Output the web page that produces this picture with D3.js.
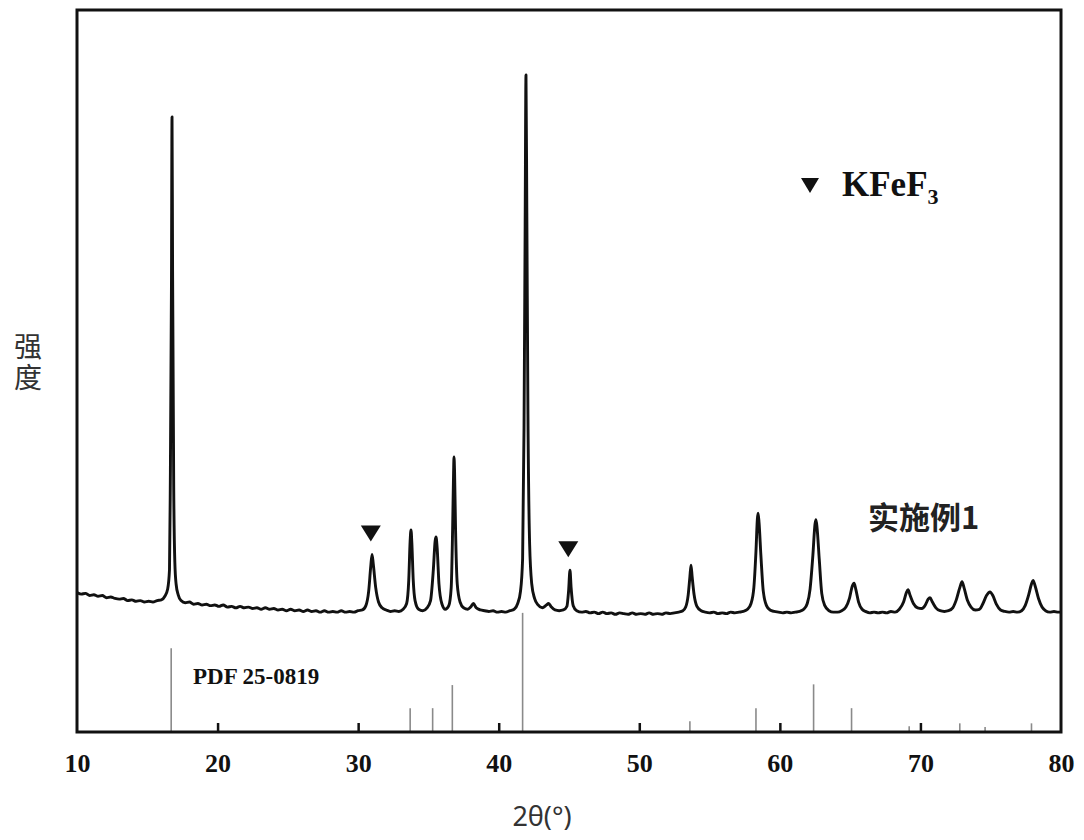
<!DOCTYPE html>
<html>
<head>
<meta charset="utf-8">
<style>
  body { margin: 0; background: #fff; }
  svg { display: block; }
  .tick-label { font: bold 26px "Liberation Serif", "Times New Roman", serif; fill: #111; }
</style>
</head>
<body>
<div id="chart"></div>
<script src="https://cdn.jsdelivr.net/npm/d3@7"></script>
<script>
// measured XRD trace (2θ, intensity in arbitrary units)
const twoTheta = [
  10.0,10.3,10.6,10.9,11.2,11.5,11.8,12.1,12.4,12.7,13.0,13.3,13.6,13.9,14.2,14.5,14.8,15.1,15.4,15.7,
  16.0,16.25,16.45,16.58,16.64,16.72,16.76,16.8,16.88,16.96,17.05,17.2,17.4,17.7,18.0,18.3,18.6,18.9,19.2,19.5,
  19.8,20.1,20.4,20.7,21.0,21.3,21.6,21.9,22.2,22.5,22.8,23.1,23.4,23.7,24.0,24.3,24.6,24.9,25.2,25.5,
  25.8,26.1,26.4,26.7,27.0,27.3,27.6,27.9,28.2,28.5,28.8,29.1,29.4,29.7,30.0,30.3,30.55,30.75,30.9,30.99,
  31.08,31.25,31.45,31.7,32.0,32.3,32.6,32.9,33.2,33.45,33.6,33.7,33.76,33.82,33.92,34.05,34.3,34.6,34.9,35.15,
  35.35,35.48,35.54,35.62,35.75,35.95,36.2,36.45,36.62,36.72,36.79,36.82,36.86,36.93,37.05,37.25,37.5,37.8,38.0,38.2,
  38.4,38.7,39.0,39.3,39.6,39.9,40.2,40.5,40.8,41.1,41.35,41.55,41.7,41.8,41.88,41.94,42.0,42.08,42.2,42.35,
  42.55,42.8,43.1,43.4,43.55,43.75,44.0,44.3,44.6,44.85,44.97,45.07,45.15,45.3,45.55,45.9,46.2,46.5,46.8,47.1,
  47.4,47.7,48.0,48.3,48.6,48.9,49.2,49.5,49.8,50.1,50.4,50.7,51.0,51.3,51.6,51.9,52.2,52.5,52.8,53.1,
  53.3,53.48,53.6,53.68,53.76,53.9,54.1,54.4,54.7,55.0,55.3,55.6,55.9,56.2,56.5,56.8,57.1,57.4,57.7,57.95,
  58.15,58.3,58.4,58.45,58.52,58.65,58.82,59.05,59.3,59.6,59.9,60.2,60.5,60.8,61.1,61.4,61.7,61.95,62.15,62.35,
  62.5,62.57,62.65,62.8,62.98,63.2,63.5,63.8,64.1,64.4,64.7,64.95,65.15,65.28,65.4,65.6,65.85,66.1,66.4,66.7,
  67.0,67.3,67.6,67.9,68.2,68.5,68.8,69.0,69.12,69.25,69.5,69.8,70.1,70.35,70.55,70.68,70.85,71.1,71.4,71.7,
  72.0,72.3,72.55,72.8,72.96,73.1,73.35,73.6,73.9,74.2,74.45,74.7,74.95,75.15,75.4,75.7,76.0,76.3,76.6,76.9,
  77.2,77.45,77.7,77.9,78.01,78.15,78.4,78.65,78.9,79.2,79.5,79.8,80.0
];
const intensity = [
  193,191,192,189,190,188,189,186,187,185,184,185,182,183,181,182,180,181,180,182,
  183,188,198,225,350,620,852,640,340,235,205,190,182,179,180,177,178,176,177,175,
  176,174,176,173,174,172,174,172,173,171,172,170,172,170,171,169,170,168,170,168,
  169,167,169,167,168,166,168,166,167,166,168,166,167,166,168,169,175,195,230,246,
  232,200,180,172,169,167,168,167,170,178,210,265,280,262,210,182,170,168,172,182,
  225,265,270,255,205,178,170,175,200,280,360,381,360,280,205,180,172,170,173,178,
  172,169,168,167,168,166,167,166,168,170,178,195,240,420,700,910,720,440,260,205,
  185,176,172,176,178,173,169,168,169,174,195,224,200,175,168,166,167,165,166,164,
  166,164,165,163,165,164,163,165,163,164,163,165,163,164,163,165,164,165,166,168,
  173,190,215,231,215,190,174,168,166,165,166,164,165,164,166,165,166,167,170,178,
  200,250,295,303,290,245,195,175,169,167,166,165,166,165,166,167,170,178,198,245,
  288,294,282,240,192,175,168,166,166,168,173,185,202,206,198,180,170,167,165,166,
  165,166,165,167,166,170,180,193,197,190,178,172,171,176,184,186,180,172,168,167,
  168,172,183,200,208,200,182,173,169,170,178,189,194,189,177,169,167,166,167,166,
  168,175,190,205,210,203,185,173,168,166,167,166,166
];

// PDF 25-0819 reference lines
const refTheta = [16.7, 33.7, 35.3, 36.7, 41.7, 53.6, 58.3, 62.4, 65.1, 69.2, 72.8, 74.6, 77.9];
const refIntensity = [116, 33, 33, 65, 165, 15, 33, 66, 33, 8, 12, 7, 12];

// KFeF3 markers
const markerTheta = [30.9, 44.95];
const markerIntensity = [246, 224];

const xTicks = [10, 20, 30, 40, 50, 60, 70, 80];

const width = 1084, height = 840;
const margin = {top: 10, right: 23, bottom: 108, left: 77};

const svg = d3.select("#chart").append("svg")
    .attr("width", width)
    .attr("height", height);

const x = d3.scaleLinear().domain([10, 80]).range([margin.left, width - margin.right]);
const y = d3.scaleLinear().domain([0, 1000]).range([height - margin.bottom, margin.top]);

svg.append("clipPath").attr("id", "plot-clip")
  .append("rect")
    .attr("x", margin.left).attr("y", margin.top)
    .attr("width", width - margin.left - margin.right)
    .attr("height", height - margin.top - margin.bottom);

// reference sticks
svg.append("g").selectAll("line")
  .data(refTheta)
  .join("line")
    .attr("x1", d => x(d)).attr("x2", d => x(d))
    .attr("y1", y(0))
    .attr("y2", (d, i) => y(refIntensity[i]))
    .attr("stroke", "#8a8a8a")
    .attr("stroke-width", 1.6);

// pattern
const pts = twoTheta.map((t, i) => [t, intensity[i]]);
const line = d3.line()
    .x(d => x(d[0]))
    .y(d => y(d[1]))
    .curve(d3.curveMonotoneX);

svg.append("path")
    .datum(pts)
    .attr("clip-path", "url(#plot-clip)")
    .attr("fill", "none")
    .attr("stroke", "#111")
    .attr("stroke-width", 2.9)
    .attr("stroke-linejoin", "round")
    .attr("d", line);

// markers above KFeF3 peaks
svg.append("g").selectAll("path")
  .data(markerTheta)
  .join("path")
    .attr("fill", "#111")
    .attr("d", (d, i) => {
      const cx = x(d), by = y(markerIntensity[i]) - 13;
      return `M${cx - 10},${by - 16}L${cx + 10},${by - 16}L${cx},${by}Z`;
    });

// inward ticks on bottom axis
const xAxis = d3.axisBottom(x).tickValues(xTicks).tickSize(-9).tickPadding(16).tickFormat(d3.format("d"));
const gx = svg.append("g")
    .attr("transform", `translate(0,${y(0)})`)
    .call(xAxis);
gx.select(".domain").remove();
gx.selectAll(".tick line")
    .attr("stroke", "#111")
    .attr("stroke-width", 2.5)
    .attr("display", d => (d === 10 || d === 80) ? "none" : null);
gx.selectAll(".tick text")
    .attr("class", "tick-label")
    .attr("dy", "0.71em")
    .attr("y", 22);

// frame
svg.append("rect")
    .attr("x", margin.left).attr("y", margin.top)
    .attr("width", width - margin.left - margin.right)
    .attr("height", height - margin.top - margin.bottom)
    .attr("fill", "none")
    .attr("stroke", "#111")
    .attr("stroke-width", 3);

// axis titles
svg.append("text")
    .attr("x", 542).attr("y", 826)
    .attr("text-anchor", "middle")
    .style("font", "27px 'Noto Sans', 'DejaVu Sans', sans-serif")
    .attr("fill", "#333")
    .text("2θ(°)");

// vertical y title, one text element
svg.append("text")
    .attr("x", 28).attr("y", 332)
    .style("writing-mode", "vertical-rl")
    .style("font", "28px 'Noto Sans CJK SC', sans-serif")
    .style("letter-spacing", "3px")
    .attr("fill", "#333")
    .text("强度");

// annotations
svg.append("text")
    .attr("x", 868).attr("y", 515)
    .attr("dominant-baseline", "central")
    .style("font", "bold 31px 'Noto Sans CJK SC', sans-serif")
    .attr("fill", "#222")
    .text("实施例1");

svg.append("text")
    .attr("x", 193).attr("y", 684)
    .style("font", "bold 23px 'Liberation Serif', 'Times New Roman', serif")
    .attr("fill", "#111")
    .text("PDF 25-0819");

// legend
svg.append("path")
    .attr("fill", "#111")
    .attr("d", "M801,178L819,178L810,193Z");
const leg = svg.append("text")
    .attr("x", 842).attr("y", 196)
    .style("font", "bold 35px 'Liberation Serif', 'Times New Roman', serif")
    .attr("fill", "#111");
leg.append("tspan").text("KFeF");
leg.append("tspan").attr("dy", 8).style("font-size", "22px").text("3");
</script>
</body>
</html>
